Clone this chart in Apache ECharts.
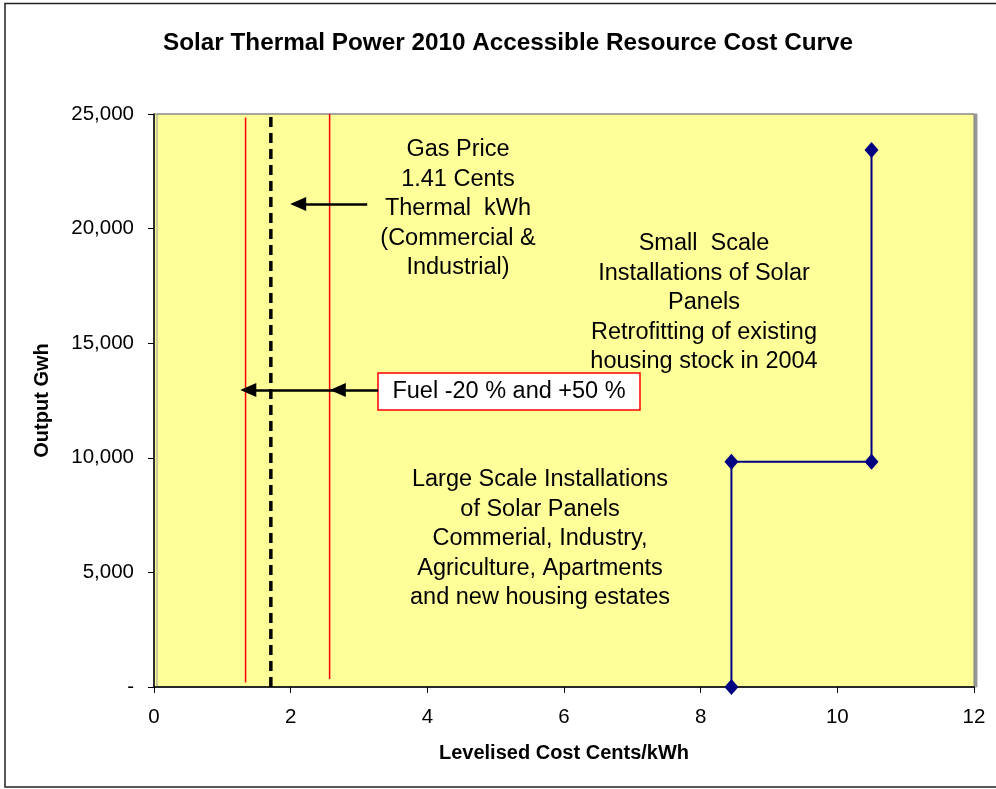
<!DOCTYPE html>
<html>
<head>
<meta charset="utf-8">
<title>Solar Thermal Power 2010 Accessible Resource Cost Curve</title>
<script src="https://cdn.jsdelivr.net/npm/echarts@6/dist/echarts.min.js"></script>
<style>
  html, body { margin: 0; padding: 0; background: #fff; }
  #chart { width: 996px; height: 789px; }
</style>
</head>
<body>
<div id="chart"></div>
<script>
// cost curve steps (cents/kWh, GWh)
const costX = [8.45, 8.45, 10.5, 10.5];
const outputY = [0, 9830, 9830, 23430];

// gas price reference lines
const gasPrice = 1.71;
const gasLow = 1.34;   // -20 %
const gasHigh = 2.57;  // +50 %
const gasLineY = [0, 25000];
const lowLineY = [200, 24850];
const highLineY = [350, 25000];

// arrows: [tail, head centre] (heads are drawn centred on the end point)
const gasArrowX = [3.12, 2.11];
const gasArrowY = 21070;
const fuelArrowX = [3.28, 2.69, 1.38];
const fuelArrowY = 12960;

const xTicks = [0, 2, 4, 6, 8, 10, 12];
const yTicks = [0, 5000, 10000, 15000, 20000, 25000];

const font = 'Arial, "Liberation Sans", sans-serif';

function pairs(xs, ys) {
    return xs.map((x, i) => [x, ys[i]]);
}

function vline(x, ys) {
    return ys.map(y => [x, y]);
}

const chart = echarts.init(document.getElementById('chart'));

const arrowLine = {color: '#000', width: 2.5, type: 'solid'};
function arrow(from, to, y) {
    return [
        {coord: [from, y], symbol: 'none'},
        {coord: [to, y], symbol: 'triangle', symbolSize: [14, 16]}
    ];
}

chart.setOption({
    animation: false,
    backgroundColor: '#fff',
    title: {
        text: 'Solar Thermal Power 2010 Accessible Resource Cost Curve',
        left: 158,
        top: 26,
        textStyle: {fontFamily: font, fontSize: 24.3, fontWeight: 'bold', color: '#000'}
    },
    grid: {
        left: 154, top: 114, right: 22, bottom: 102,
        show: true,
        backgroundColor: '#FFFF99',
        borderColor: '#808080',
        borderWidth: 1,
        shadowColor: '#999',
        shadowOffsetX: 3,
        shadowBlur: 0
    },
    xAxis: {
        type: 'value',
        min: 0, max: 12, interval: 2,
        name: 'Levelised Cost Cents/kWh',
        nameLocation: 'middle',
        nameGap: 56,
        nameTextStyle: {fontFamily: font, fontSize: 20, fontWeight: 'bold', color: '#000'},
        axisLine: {lineStyle: {color: '#000', width: 1.5}},
        axisTick: {show: true, length: 6, lineStyle: {color: '#000'}},
        axisLabel: {
            fontFamily: font, fontSize: 20.5, color: '#000', margin: 20,
            formatter: v => xTicks.includes(v) ? String(v) : ''
        },
        splitLine: {show: false}
    },
    yAxis: {
        type: 'value',
        min: 0, max: 25000, interval: 5000,
        name: 'Output Gwh',
        nameLocation: 'middle',
        nameGap: 102,
        nameTextStyle: {fontFamily: font, fontSize: 20, fontWeight: 'bold', color: '#000'},
        axisLine: {show: true, lineStyle: {color: '#000', width: 1.5}},
        axisTick: {show: true, length: 6, lineStyle: {color: '#000'}},
        axisLabel: {
            fontFamily: font, fontSize: 20.5, color: '#000', margin: 20,
            formatter: v => yTicks.includes(v) ? (v === 0 ? '-' : v.toLocaleString('en-US')) : ''
        },
        splitLine: {show: false}
    },
    series: [
        {
            name: 'Cost curve',
            type: 'line',
            data: pairs(costX, outputY),
            symbol: 'diamond',
            symbolSize: [14, 16],
            itemStyle: {color: '#000080'},
            lineStyle: {color: '#000080', width: 2}
        },
        {
            name: 'Fuel -20 %',
            type: 'line',
            data: vline(gasLow, lowLineY),
            symbol: 'none',
            lineStyle: {color: '#FF0000', width: 1.5}
        },
        {
            name: 'Fuel +50 %',
            type: 'line',
            data: vline(gasHigh, highLineY),
            symbol: 'none',
            lineStyle: {color: '#FF0000', width: 1.5}
        },
        {
            name: 'Gas price',
            type: 'line',
            data: vline(gasPrice, gasLineY),
            symbol: 'none',
            lineStyle: {color: '#000', width: 3.5, type: [10, 6]},
            markLine: {
                silent: true,
                label: {show: false},
                lineStyle: arrowLine,
                data: [
                    arrow(gasArrowX[0], gasArrowX[1], gasArrowY),
                    arrow(fuelArrowX[0], fuelArrowX[1], fuelArrowY),
                    arrow(fuelArrowX[1], fuelArrowX[2], fuelArrowY)
                ]
            }
        }
    ],
    graphic: [
        {
            type: 'rect',
            silent: true,
            shape: {x: 5, y: 3.5, width: 1000, height: 783.5},
            style: {fill: 'none', stroke: '#222', lineWidth: 1.5}
        },
        {
            type: 'text',
            x: 458, y: 135,
            style: {
                text: 'Gas Price\n1.41 Cents\nThermal  kWh\n(Commercial &\nIndustrial)',
                font: '23.5px ' + font, fill: '#000', align: 'center', lineHeight: 29.5
            }
        },
        {
            type: 'text',
            x: 704, y: 229,
            style: {
                text: 'Small  Scale\nInstallations of Solar\nPanels\nRetrofitting of existing\nhousing stock in 2004',
                font: '23.5px ' + font, fill: '#000', align: 'center', lineHeight: 29.5
            }
        },
        {
            type: 'text',
            x: 540, y: 465,
            style: {
                text: 'Large Scale Installations\nof Solar Panels\nCommerial, Industry,\nAgriculture, Apartments\nand new housing estates',
                font: '23.5px ' + font, fill: '#000', align: 'center', lineHeight: 29.5
            }
        },
        {
            type: 'rect',
            shape: {x: 378, y: 373, width: 262, height: 37},
            style: {fill: '#fff', stroke: '#FF0000', lineWidth: 1.5}
        },
        {
            type: 'text',
            x: 509, y: 392,
            style: {
                text: 'Fuel -20 % and +50 %',
                font: '23.5px ' + font, fill: '#000', align: 'center', verticalAlign: 'middle'
            }
        }
    ]
});
</script>
</body>
</html>
